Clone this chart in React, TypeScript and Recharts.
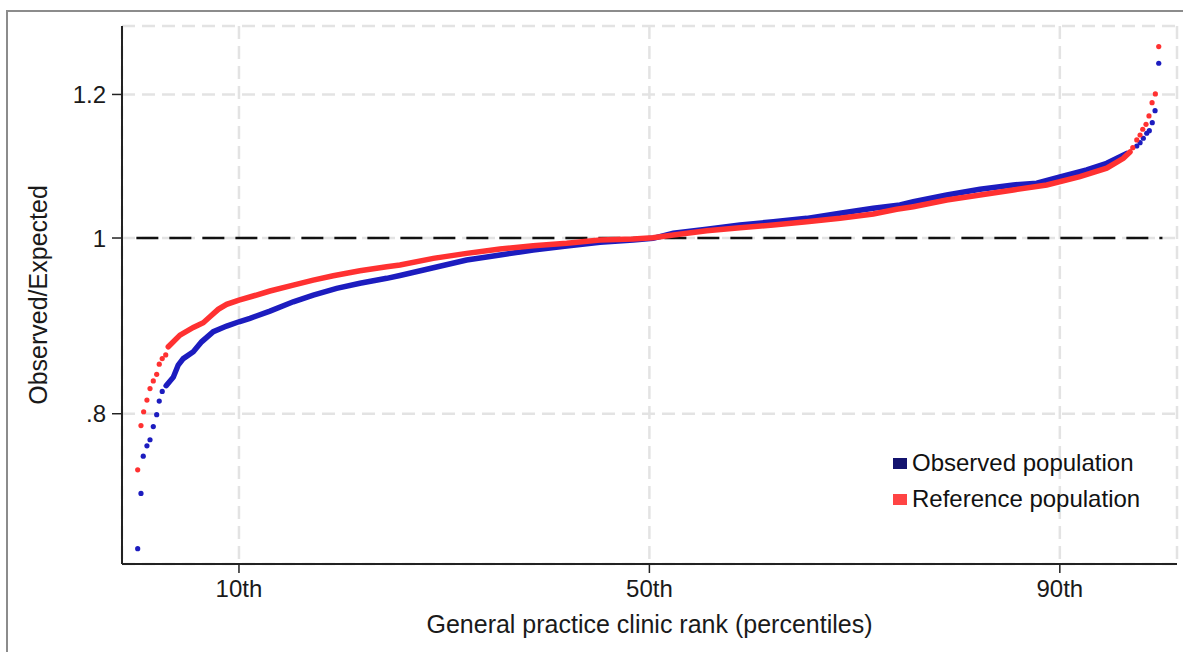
import {
  ComposedChart,
  Scatter,
  XAxis,
  YAxis,
  CartesianGrid,
  ReferenceLine,
} from "recharts";

// rank percentile, observed/expected ratio
const observedLow = [
  [0.13, 0.674], [0.45, 0.723], [0.67, 0.758], [1.03, 0.768], [1.33, 0.774],
  [1.65, 0.787], [1.98, 0.799], [2.23, 0.813], [2.52, 0.823],
];
const observedBody = [
  [2.9, 0.829], [3.6, 0.838], [4.08, 0.851], [4.57, 0.858], [5.55, 0.8655],
  [6.36, 0.8765], [7.5, 0.8878], [8.8, 0.8942], [10.0, 0.8991], [11.07, 0.903],
  [13.02, 0.9114], [15.29, 0.9222], [17.24, 0.9301], [19.52, 0.9381],
  [21.79, 0.9441], [24.4, 0.9501], [25.69, 0.9535], [28.94, 0.963],
  [32.19, 0.9724], [35.44, 0.9786], [38.68, 0.9849], [41.94, 0.9899],
  [45.19, 0.9946], [48.43, 0.9975], [50.35, 0.9996], [52.33, 1.006],
  [55.58, 1.0111], [58.83, 1.0167], [62.08, 1.0209], [65.33, 1.0253],
  [68.58, 1.0319], [71.82, 1.0385], [74.42, 1.0428], [75.72, 1.0472],
  [78.98, 1.0562], [82.22, 1.0639], [85.47, 1.0697], [87.75, 1.072],
  [90.02, 1.0806], [92.62, 1.0903], [94.57, 1.0996], [96.52, 1.1135],
];
const observedHigh = [
  [97.5, 1.124], [97.82, 1.1287], [98.14, 1.1351], [98.47, 1.1423],
  [98.72, 1.1461], [99.01, 1.1578], [99.28, 1.1756], [99.64, 1.2485],
];

const referenceLow = [
  [0.13, 0.745], [0.45, 0.788], [0.71, 0.802], [1.03, 0.814], [1.33, 0.826],
  [1.65, 0.834], [1.98, 0.841], [2.23, 0.852], [2.52, 0.858], [2.86, 0.862],
];
const referenceBody = [
  [3.11, 0.871], [4.25, 0.884], [5.55, 0.8927], [6.52, 0.898], [7.17, 0.9048],
  [7.98, 0.9134], [8.8, 0.9192], [10.0, 0.9242], [11.39, 0.929],
  [13.02, 0.9349], [15.29, 0.942], [17.24, 0.948], [19.19, 0.9532],
  [21.79, 0.9593], [24.4, 0.9642], [25.69, 0.9663], [28.94, 0.9745],
  [32.19, 0.9807], [35.44, 0.9861], [38.68, 0.9903], [41.94, 0.9933],
  [45.19, 0.9975], [48.43, 0.9987], [50.35, 1.0004], [52.33, 1.0038],
  [55.58, 1.0093], [58.83, 1.0132], [62.08, 1.0167], [65.33, 1.0209],
  [68.58, 1.0253], [71.82, 1.031], [74.1, 1.0372], [75.72, 1.0406],
  [78.98, 1.0495], [82.22, 1.0562], [85.47, 1.0629], [88.72, 1.0697],
  [91.96, 1.081], [94.57, 1.0928], [96.19, 1.1066], [96.84, 1.1155],
];
const referenceHigh = [
  [97.11, 1.1216], [97.5, 1.1326], [97.82, 1.1398], [98.08, 1.1481],
  [98.4, 1.1554], [98.69, 1.1677], [98.99, 1.1876], [99.31, 1.2008],
  [99.64, 1.2752],
];

const xTicks = [10, 50, 90];
const xTickLabels = ["10th", "50th", "90th"];
const yTicks = [0.8, 1, 1.2];
const yTickLabels = [".8", "1", "1.2"];
const seriesNames = ["Observed population", "Reference population"];

const BLUE = "#1c1cbf";
const RED = "#ff3131";
const FONT = "'Liberation Sans', Arial, sans-serif";

const toPoints = (rows: number[][]) => rows.map(([x, y]) => ({ x, y }));

const Dot = (color: string) => (props: any) =>
  <circle cx={props.cx} cy={props.cy} r={2.6} fill={color} />;
const NoDot = () => <g />;

const legendItems = [
  { name: seriesNames[0], color: "#13136e" },
  { name: seriesNames[1], color: "#ff4444" },
];

function LegendBox() {
  return (
    <div
      style={{
        position: "absolute",
        left: 893,
        top: 445,
        fontFamily: FONT,
        fontSize: 24,
        color: "#111",
        whiteSpace: "nowrap",
      }}
    >
      {legendItems.map((it) => (
        <div
          key={it.name}
          style={{ display: "flex", alignItems: "center", height: 36 }}
        >
          <span
            style={{
              display: "inline-block",
              width: 14,
              height: 11,
              background: it.color,
              marginRight: 5,
            }}
          />
          <span>{it.name}</span>
        </div>
      ))}
    </div>
  );
}

export default function App() {
  return (
    <div
      style={{
        position: "absolute",
        left: 0,
        top: 0,
        width: 1183,
        height: 652,
        background: "#fff",
        overflow: "hidden",
      }}
    >
      <div
        style={{
          position: "absolute",
          left: 6,
          top: 10,
          width: 1177,
          height: 642,
          borderTop: "2px solid #8c8c8c",
          borderLeft: "2px solid #8c8c8c",
        }}
      />
      <div style={{ position: "absolute", left: 0, top: 0 }}>
        <ComposedChart
          width={1183}
          height={652}
          margin={{ top: 26, right: 6, bottom: 0, left: 0 }}
        >
          <CartesianGrid
            stroke="#e3e3e3"
            strokeWidth={2.5}
            strokeDasharray="13 7"
          />
          <XAxis
            type="number"
            dataKey="x"
            domain={[-1.4, 101.42]}
            allowDataOverflow
            ticks={xTicks}
            tickFormatter={(v: number) => xTickLabels[xTicks.indexOf(v)]}
            height={88}
            tickSize={9}
            tickMargin={7}
            axisLine={{ stroke: "#222", strokeWidth: 2 }}
            tickLine={{ stroke: "#222", strokeWidth: 1.5 }}
            tick={{ fill: "#1a1a1a", fontSize: 24, fontFamily: FONT }}
            label={{
              value: "General practice clinic rank (percentiles)",
              position: "insideBottom",
              offset: 19,
              fill: "#1a1a1a",
              fontSize: 25,
              fontFamily: FONT,
            }}
          />
          <YAxis
            type="number"
            dataKey="y"
            scale="log"
            domain={[0.661, 1.309]}
            allowDataOverflow
            ticks={yTicks}
            tickFormatter={(v: number) => yTickLabels[yTicks.indexOf(v)]}
            width={122}
            tickSize={10}
            tickMargin={6}
            axisLine={{ stroke: "#222", strokeWidth: 2 }}
            tickLine={{ stroke: "#222", strokeWidth: 1.5 }}
            tick={{ fill: "#1a1a1a", fontSize: 24, fontFamily: FONT }}
            label={{
              value: "Observed/Expected",
              angle: -90,
              position: "insideLeft",
              offset: 38,
              fill: "#1a1a1a",
              fontSize: 25,
              fontFamily: FONT,
              style: { textAnchor: "middle" },
            }}
          />
          <ReferenceLine
            segment={[
              { x: 0, y: 1 },
              { x: 100, y: 1 },
            ]}
            stroke="#111"
            strokeWidth={2.5}
            strokeDasharray="22 11"
          />
          <Scatter
            data={toPoints(observedLow)}
            shape={Dot(BLUE)}
            isAnimationActive={false}
          />
          <Scatter
            data={toPoints(observedBody)}
            shape={NoDot}
            line={{ stroke: BLUE, strokeWidth: 5.5, strokeLinecap: "round" }}
            isAnimationActive={false}
          />
          <Scatter
            data={toPoints(observedHigh)}
            shape={Dot(BLUE)}
            isAnimationActive={false}
          />
          <Scatter
            data={toPoints(referenceLow)}
            shape={Dot(RED)}
            isAnimationActive={false}
          />
          <Scatter
            data={toPoints(referenceBody)}
            shape={NoDot}
            line={{ stroke: RED, strokeWidth: 5.5, strokeLinecap: "round" }}
            isAnimationActive={false}
          />
          <Scatter
            data={toPoints(referenceHigh)}
            shape={Dot(RED)}
            isAnimationActive={false}
          />
        </ComposedChart>
      </div>
      <LegendBox />
    </div>
  );
}
